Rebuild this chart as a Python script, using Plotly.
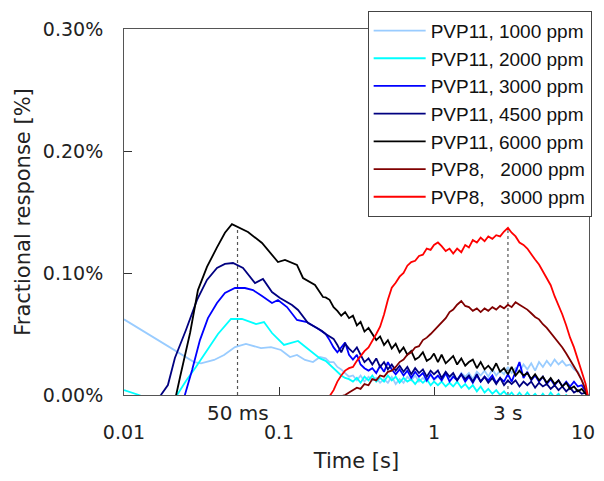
'''
Fractional response of PVP11 / PVP8 films versus time (log scale).
Dashed markers at 50 ms and 3 s.
'''

import numpy as np
import plotly.graph_objects as go

'''
    ======= DATA =======
'''
# shared time grid of the long, noisy tail [s]
t_tail = [0.2, 0.212, 0.225, 0.238, 0.252, 0.267, 0.283, 0.3, 0.318, 0.336,
          0.356, 0.378, 0.4, 0.424, 0.449, 0.476, 0.504, 0.534, 0.566, 0.6,
          0.636, 0.673, 0.713, 0.756, 0.8, 0.848, 0.898, 0.951, 1.0, 1.06,
          1.12, 1.19, 1.26, 1.33, 1.41, 1.5, 1.59, 1.68, 1.78, 1.89,
          2.0, 2.12, 2.24, 2.38, 2.52, 2.67, 2.83, 3.0, 3.17, 3.36,
          3.56, 3.78, 4.0, 4.24, 4.49, 4.76, 5.04, 5.34, 5.66, 6.0,
          6.36, 6.73, 7.13, 7.55, 8.0, 8.48, 8.98, 9.51, 9.8]

# PVP11, 1000 ppm  [%]
t_p11_1000 = [0.01, 0.0127, 0.0171, 0.023, 0.0283, 0.0314, 0.0381, 0.0442, 0.052,
              0.0612, 0.0765, 0.0888, 0.103, 0.1178, 0.1306, 0.1472, 0.1657, 0.1838]
y_p11_1000 = [0.062, 0.054, 0.044, 0.034, 0.027, 0.026, 0.0287, 0.0328, 0.0393,
              0.0418, 0.0385, 0.0393, 0.0369, 0.0311, 0.0328, 0.0287, 0.027, 0.0311]
y_p11_1000_tail = [0.03, 0.027, 0.027, 0.023, 0.021, 0.018, 0.015, 0.016, 0.012, 0.016,
                   0.011, 0.015, 0.012, 0.014, 0.01, 0.013, 0.01, 0.015, 0.009, 0.013,
                   0.01, 0.015, 0.012, 0.016, 0.011, 0.014, 0.011, 0.017, 0.012, 0.015,
                   0.012, 0.017, 0.014, 0.017, 0.012, 0.018, 0.015, 0.018, 0.013, 0.019,
                   0.016, 0.02, 0.015, 0.021, 0.016, 0.02, 0.017, 0.023, 0.018, 0.022,
                   0.019, 0.025, 0.021, 0.026, 0.02, 0.027, 0.023, 0.028, 0.024, 0.029,
                   0.025, 0.028, 0.024, 0.025, 0.021, 0.019, 0.012, 0.006, 0.002]

# PVP11, 2000 ppm
t_p11_2000 = [0.01, 0.0125, 0.0147, 0.0198, 0.022, 0.0251, 0.0291, 0.0343, 0.0404,
              0.049, 0.0577, 0.0711, 0.08, 0.0901, 0.1077, 0.1327, 0.1585, 0.1838]
y_p11_2000 = [0.004, 0.0, -0.004, -0.004, 0.0, 0.0115, 0.023, 0.0369, 0.05,
              0.0623, 0.0623, 0.0582, 0.0598, 0.0508, 0.041, 0.0443, 0.0369, 0.030]
y_p11_2000_tail = [0.028, 0.025, 0.022, 0.019, 0.016, 0.014, 0.013, 0.011, 0.014, 0.01,
                   0.015, 0.012, 0.016, 0.011, 0.014, 0.011, 0.016, 0.012, 0.015, 0.01,
                   0.014, 0.011, 0.013, 0.009, 0.013, 0.01, 0.013, 0.008, 0.011, 0.008,
                   0.011, 0.007, 0.01, 0.007, 0.011, 0.006, 0.009, 0.005, 0.008, 0.003,
                   0.007, 0.002, 0.005, 0.001, 0.004, 0.0, 0.003, -0.001, 0.002, -0.002,
                   0.002, -0.002, 0.002, -0.002, 0.001, -0.003, 0.001, -0.003, 0.002, -0.002,
                   0.001, -0.003, 0.0, -0.003, -0.001, -0.004, -0.002, -0.004, -0.004]

# PVP11, 3000 ppm
t_p11_3000 = [0.0237, 0.0247, 0.0275, 0.0309, 0.0348, 0.0398, 0.0448, 0.052, 0.0603,
              0.068, 0.0777, 0.0901, 0.0985, 0.1126, 0.1306, 0.1516, 0.1838]
y_p11_3000 = [-0.004, 0.0, 0.0205, 0.045, 0.063, 0.0754, 0.0836, 0.0877, 0.0877,
              0.086, 0.0811, 0.0754, 0.0779, 0.0721, 0.0615, 0.0598, 0.0533]
y_p11_3000_tail = [0.05, 0.045, 0.039, 0.035, 0.039, 0.043, 0.033, 0.029, 0.033, 0.025,
                   0.022, 0.02, 0.022, 0.018, 0.024, 0.019, 0.027, 0.021, 0.017, 0.021,
                   0.016, 0.02, 0.014, 0.019, 0.015, 0.018, 0.012, 0.017, 0.013, 0.016,
                   0.012, 0.018, 0.011, 0.015, 0.012, 0.017, 0.011, 0.015, 0.01, 0.016,
                   0.011, 0.015, 0.012, 0.016, 0.01, 0.014, 0.011, 0.017, 0.011, 0.019,
                   0.027, 0.014, 0.019, 0.012, 0.016, 0.011, 0.015, 0.009, 0.013, 0.008,
                   0.012, 0.007, 0.011, 0.007, 0.011, 0.007, 0.008, 0.003, 0.0]

# PVP11, 4500 ppm
t_p11_4500 = [0.0163, 0.0173, 0.0192, 0.0213, 0.0251, 0.0296, 0.0343, 0.0398, 0.0448,
              0.0505, 0.0586, 0.07, 0.0788, 0.0901, 0.1015, 0.1213, 0.1327, 0.1539,
              0.1759, 0.1894]
y_p11_4500 = [-0.004, 0.0, 0.0082, 0.0303, 0.0533, 0.0779, 0.0943, 0.1041, 0.1074,
              0.1082, 0.1041, 0.0918, 0.0951, 0.0844, 0.0795, 0.0738, 0.0697, 0.059,
              0.0549, 0.0525]
y_p11_4500_tail = [0.05, 0.048, 0.046, 0.041, 0.035, 0.042, 0.038, 0.035, 0.039, 0.033,
                   0.027, 0.03, 0.025, 0.03, 0.023, 0.027, 0.021, 0.025, 0.02, 0.024,
                   0.019, 0.023, 0.017, 0.022, 0.018, 0.021, 0.015, 0.02, 0.017, 0.02,
                   0.014, 0.019, 0.015, 0.018, 0.012, 0.017, 0.013, 0.016, 0.011, 0.017,
                   0.011, 0.015, 0.01, 0.014, 0.009, 0.014, 0.008, 0.012, 0.009, 0.012,
                   0.007, 0.011, 0.008, 0.011, 0.006, 0.01, 0.007, 0.009, 0.005, 0.008,
                   0.004, 0.007, 0.003, 0.006, 0.002, 0.004, 0.001, 0.002, 0.0]

# PVP11, 6000 ppm
t_p11_6000 = [0.0205, 0.0217, 0.023, 0.0267, 0.03, 0.0343, 0.0398, 0.0448, 0.0497,
              0.0631, 0.0777, 0.0985, 0.1093, 0.1306, 0.1428, 0.1707, 0.1922]
y_p11_6000 = [-0.004, 0.0, 0.0148, 0.051, 0.086, 0.105, 0.121, 0.133, 0.140,
              0.1336, 0.1246, 0.109, 0.1107, 0.1066, 0.0959, 0.0902, 0.0803]
y_p11_6000_tail = [0.08, 0.078, 0.072, 0.069, 0.065, 0.068, 0.063, 0.065, 0.057, 0.06,
                   0.052, 0.055, 0.05, 0.045, 0.048, 0.041, 0.045, 0.038, 0.042, 0.035,
                   0.039, 0.033, 0.036, 0.029, 0.031, 0.035, 0.028, 0.03, 0.034, 0.027,
                   0.033, 0.026, 0.029, 0.032, 0.025, 0.03, 0.024, 0.027, 0.029, 0.022,
                   0.027, 0.021, 0.024, 0.02, 0.026, 0.019, 0.022, 0.017, 0.023, 0.016,
                   0.02, 0.016, 0.018, 0.013, 0.017, 0.012, 0.015, 0.01, 0.014, 0.009,
                   0.012, 0.007, 0.01, 0.005, 0.007, 0.003, 0.005, 0.001, 0.0]

# PVP8, 2000 ppm (tail grid only)
y_p8_2000 = [-0.004, -0.004, -0.003, -0.002, -0.001, 0.0, 0.002, 0.004, 0.006, 0.005,
             0.009, 0.008, 0.013, 0.012, 0.016, 0.015, 0.019, 0.02, 0.023, 0.027,
             0.029, 0.033, 0.035, 0.039, 0.04, 0.045, 0.047, 0.05, 0.053, 0.056,
             0.06, 0.063, 0.068, 0.07, 0.074, 0.077, 0.073, 0.072, 0.069, 0.071,
             0.068, 0.071, 0.069, 0.072, 0.07, 0.073, 0.071, 0.074, 0.072, 0.076,
             0.074, 0.072, 0.07, 0.067, 0.064, 0.062, 0.058, 0.055, 0.051, 0.047,
             0.043, 0.039, 0.034, 0.029, 0.024, 0.018, 0.012, 0.005, 0.0]

# PVP8, 3000 ppm (tail grid only)
y_p8_3000 = [-0.004, -0.001, 0.004, 0.011, 0.016, 0.02, 0.022, 0.023, 0.028, 0.032,
             0.036, 0.039, 0.044, 0.05, 0.056, 0.066, 0.078, 0.088, 0.092, 0.097,
             0.1, 0.106, 0.109, 0.11, 0.114, 0.115, 0.12, 0.119, 0.123, 0.125,
             0.122, 0.118, 0.12, 0.116, 0.12, 0.117, 0.123, 0.121, 0.127, 0.125,
             0.129, 0.126, 0.13, 0.128, 0.131, 0.13, 0.134, 0.137, 0.133, 0.13,
             0.125, 0.123, 0.12, 0.115, 0.111, 0.107, 0.101, 0.095, 0.09, 0.081,
             0.074, 0.066, 0.057, 0.047, 0.039, 0.029, 0.019, 0.009, 0.0]

# dashed markers
marker_t = [0.054, 3.0]
marker_top = [0.138, 0.135]
marker_text = ['50 ms', '3 s']

x_ticks = [0.01, 0.1, 1, 10]
x_ticktext = ['0.01', '0.1', '1', '10&nbsp;&nbsp;']  # nudge the last label inside the page
y_ticks = [0, 0.1, 0.2, 0.3]
y_ticktext = ['0.00%', '0.10%', '0.20%', '0.30%']

'''
    ======= FIGURE =======
'''
ppm = ' ppm'
series = [
    ('PVP11, 1000' + ppm, t_p11_1000 + t_tail, y_p11_1000 + y_p11_1000_tail, '#99CCFF'),
    ('PVP11, 2000' + ppm, t_p11_2000 + t_tail, y_p11_2000 + y_p11_2000_tail, '#00FFFF'),
    ('PVP11, 3000' + ppm, t_p11_3000 + t_tail, y_p11_3000 + y_p11_3000_tail, '#0000FF'),
    ('PVP11, 4500' + ppm, t_p11_4500 + t_tail, y_p11_4500 + y_p11_4500_tail, '#000080'),
    ('PVP11, 6000' + ppm, t_p11_6000 + t_tail, y_p11_6000 + y_p11_6000_tail, '#000000'),
    ('PVP8,&nbsp;&nbsp;&nbsp;2000' + ppm, t_tail, y_p8_2000, '#800000'),
    ('PVP8,&nbsp;&nbsp;&nbsp;3000' + ppm, t_tail, y_p8_3000, '#FF0000'),
]

fig = go.Figure()

for t, top in zip(marker_t, marker_top):
    fig.add_trace(go.Scatter(x=[t, t], y=[0, top], mode='lines',
                             line=dict(color='#555555', width=1.2, dash='3px,3px'),
                             showlegend=False, hoverinfo='skip'))

for i, (name, t, y, color) in enumerate(series):
    fig.add_trace(go.Scatter(x=t, y=y, mode='lines', name=name,
                             legendgroup=str(i),
                             line=dict(color=color, width=1.8)))

for t, text in zip(marker_t, marker_text):
    fig.add_annotation(x=np.log10(t), y=-0.05, xref='x', yref='paper',
                       text=text, showarrow=False, yanchor='middle',
                       font=dict(family='DejaVu Sans', size=20, color='#222222'))

# the page body adds an 8px offset; keep the page short enough to avoid scrollbars
fig.update_layout(
    width=596, height=465,
    margin=dict(l=116, r=15, t=21, b=78, autoexpand=False),
    plot_bgcolor='white', paper_bgcolor='white',
    font=dict(family='DejaVu Sans', size=19, color='#222222'),
    legend=dict(x=0.524, y=1.05, xanchor='left', yanchor='top',
                bgcolor='white', bordercolor='#444444', borderwidth=1,
                font=dict(family='Liberation Sans', size=19, color='#111111'),
                itemwidth=52, tracegroupgap=0),
)
fig.update_xaxes(type='log', range=[-2, 1], automargin=False,
                 tickvals=x_ticks, ticktext=x_ticktext,
                 ticklabeloverflow='allow',
                 ticks='inside', ticklen=8, tickcolor='#333333',
                 ticklabelstandoff=20,
                 showline=True, linecolor='#555555', linewidth=1, mirror=True,
                 showgrid=False, zeroline=False,
                 title=dict(text='Time [s]', standoff=17,
                            font=dict(family='DejaVu Sans', size=21)))
fig.update_yaxes(range=[0, 0.3], automargin=False,
                 tickvals=y_ticks, ticktext=y_ticktext,
                 ticks='inside', ticklen=8, tickcolor='#333333',
                 ticklabelstandoff=16,
                 showline=True, linecolor='#555555', linewidth=1, mirror=True,
                 showgrid=False, zeroline=False,
                 title=dict(text='Fractional response [%]', standoff=6,
                            font=dict(family='DejaVu Sans', size=21)))

fig.write_html('out.html')
